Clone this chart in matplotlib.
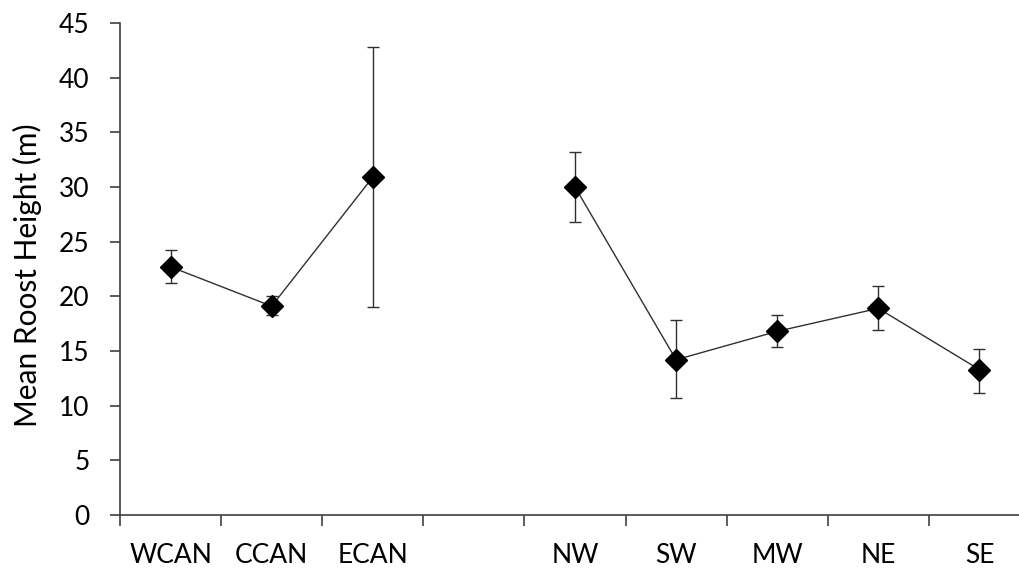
import numpy as np
import matplotlib.pyplot as plt

plt.rcParams['font.family'] = ['Lato', 'DejaVu Sans']

regions = ["WCAN", "CCAN", "ECAN", "", "NW", "SW", "MW", "NE", "SE"]
mean_h = [22.7, 19.1, 30.9, np.nan, 30.0, 14.2, 16.8, 18.9, 13.3]
upper = [24.2, 20.0, 42.8, np.nan, 33.2, 17.8, 18.3, 20.9, 15.2]
lower = [21.2, 18.3, 19.0, np.nan, 26.8, 10.7, 15.4, 16.9, 11.2]

mean_h = np.array(mean_h)
err = [mean_h - np.array(lower), np.array(upper) - mean_h]
x = np.arange(len(regions)) + 0.5

fig = plt.figure(figsize=(10.19, 5.70), dpi=100)
ax = fig.add_axes([120/1019, 55/570, 910/1019, 492/570])

ax.errorbar(x, mean_h, yerr=err, fmt="-", color="#303030", lw=1.0,
            elinewidth=1.0, ecolor="#303030", capsize=4.5, capthick=1.0, zorder=2)
ax.plot(x, mean_h, "D", color="black", markersize=11, zorder=3)

ax.set_xlim(0, len(regions))
ax.set_ylim(0, 45)
ax.set_yticks(np.arange(0, 46, 5))
ax.set_xticks(np.arange(0, len(regions) + 1))
ax.set_xticklabels([])
ax.set_xticks(x, minor=True)
ax.set_xticklabels(regions, minor=True)
ax.tick_params(axis="x", which="minor", length=0, pad=20, labelsize=19)
ax.tick_params(axis="x", which="major", direction="out", length=8, width=1.2, color="#404040")
ax.tick_params(axis="y", direction="out", length=7.5, width=1.2, color="#404040", labelsize=19, pad=14.5)

for s in ["top", "right"]:
    ax.spines[s].set_visible(False)
for s in ["left", "bottom"]:
    ax.spines[s].set_color("#404040")
    ax.spines[s].set_linewidth(1.2)

ax.set_ylabel("Mean Roost Height (m)", fontsize=21.5, labelpad=12, y=0.488)

fig.savefig("out.png", dpi=100)
